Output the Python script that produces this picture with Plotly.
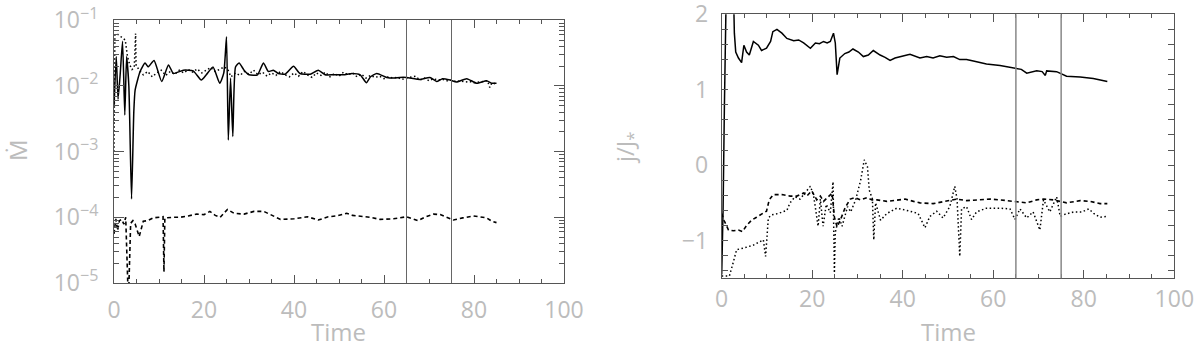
import plotly.graph_objects as go

# ---------------- Left panel data (accretion rate, log axis) ----------------
l_solid_t = [0, 0.5, 0.9, 1.4, 1.9, 2.4, 2.8, 3.3, 3.9, 4.4, 4.7, 5.8, 6.9, 7.6, 8.9, 10.6, 12.1, 13.2,
             15.4, 17.6, 19.4, 20.5, 22.0, 23.5, 24.4, 25.0, 25.4, 25.9, 26.4, 27.0, 27.8, 28.9, 30.0,
             31.9, 33.2, 34.3, 35.4, 36.5, 38.0, 39.9, 41.3, 43.6, 45.4, 46.9, 48.7, 51.0, 52.9, 54.7,
             56.1, 57.0, 58.4, 60.6, 62.1, 63.5, 65.0, 68.0, 70.2, 71.7, 73.0, 74.7, 76.1, 78.4, 80.6,
             82.8, 83.9, 85.0]
l_solid_v = [5.0e-3, 2.8e-2, 6.3e-3, 1.6e-2, 4.8e-2, 3.6e-3, 2.8e-2, 1.0e-2, 1.9e-4, 4.0e-3, 8.7e-3,
             1.66e-2, 2.24e-2, 1.95e-2, 2.45e-2, 1.17e-2, 2.09e-2, 1.55e-2, 1.74e-2, 1.70e-2, 1.23e-2,
             1.48e-2, 1.95e-2, 1.10e-2, 1.58e-2, 5.6e-2, 1.5e-3, 1.32e-2, 1.7e-3, 1.95e-2, 2.24e-2,
             1.74e-2, 1.48e-2, 1.48e-2, 2.24e-2, 1.66e-2, 1.74e-2, 1.55e-2, 1.51e-2, 2.0e-2, 1.55e-2,
             1.51e-2, 1.74e-2, 1.48e-2, 1.48e-2, 1.48e-2, 1.55e-2, 1.48e-2, 1.12e-2, 1.38e-2, 1.55e-2,
             1.35e-2, 1.32e-2, 1.35e-2, 1.35e-2, 1.26e-2, 1.35e-2, 1.17e-2, 1.29e-2, 1.23e-2, 1.15e-2,
             1.29e-2, 1.10e-2, 1.20e-2, 1.10e-2, 1.10e-2]

l_dot_t = [0, 0.2, 0.6, 1.0, 1.5, 2.0, 2.5, 3.0, 3.5, 4.0, 4.5, 4.8, 4.9, 5.5, 6.5, 7.5, 8.5, 9.5,
           10.5, 11.5, 12.5, 13.5, 14.5, 15.5, 16.5, 17.5, 18.5, 19.5, 20.5, 21.5, 22.5, 23.5, 24.5,
           25.3, 26.0, 27.0, 28.0, 29.0, 30.0, 31.0, 32.0, 33.0, 34.0, 35.0, 36.0, 37.0, 38.0, 39.0,
           40.0, 41.0, 42.0, 43.0, 44.0, 45.0, 46.0, 47.0, 48.0, 49.0, 50.0, 51.0, 52.0, 53.0, 54.0,
           55.0, 56.0, 57.0, 58.0, 59.0, 60.0, 61.0, 62.0, 63.0, 64.0, 65.0, 66.0, 67.0, 68.0, 69.0,
           70.0, 71.0, 72.0, 73.0, 74.0, 75.0, 76.0, 77.0, 78.0, 79.0, 80.0, 81.0, 82.0, 83.0, 83.5,
           84.0, 85.0]
l_dot_v = [1.0e-3, 6.0e-2, 6.3e-2, 6.0e-2, 5.6e-2, 5.4e-2, 5.0e-2, 2.8e-2, 2.1e-2, 1.78e-2, 1.91e-2,
           6.3e-2, 2.1e-2, 1.78e-2, 1.48e-2, 1.66e-2, 1.38e-2, 1.58e-2, 1.74e-2, 1.45e-2, 1.66e-2,
           1.51e-2, 1.74e-2, 1.58e-2, 1.78e-2, 1.62e-2, 1.82e-2, 1.58e-2, 1.74e-2, 1.91e-2, 1.66e-2,
           1.82e-2, 1.95e-2, 1.78e-2, 1.38e-2, 1.58e-2, 1.45e-2, 1.66e-2, 1.51e-2, 1.74e-2, 1.48e-2,
           1.62e-2, 1.41e-2, 1.58e-2, 1.45e-2, 1.66e-2, 1.48e-2, 1.38e-2, 1.58e-2, 1.41e-2, 1.66e-2,
           1.48e-2, 1.35e-2, 1.58e-2, 1.45e-2, 1.62e-2, 1.38e-2, 1.55e-2, 1.41e-2, 1.62e-2, 1.48e-2,
           1.58e-2, 1.38e-2, 1.51e-2, 1.32e-2, 1.45e-2, 1.35e-2, 1.41e-2, 1.29e-2, 1.38e-2, 1.32e-2,
           1.35e-2, 1.26e-2, 1.32e-2, 1.35e-2, 1.41e-2, 1.23e-2, 1.32e-2, 1.20e-2, 1.29e-2, 1.23e-2,
           1.26e-2, 1.20e-2, 1.23e-2, 1.17e-2, 1.20e-2, 1.15e-2, 1.17e-2, 1.12e-2, 1.15e-2, 1.17e-2,
           1.20e-2, 0.95e-2, 1.12e-2, 1.07e-2]

l_dash_t = [0, 0.4, 0.8, 1.2, 1.7, 2.2, 2.6, 3.2, 3.7, 4.2, 4.7, 5.6, 6.5, 7.5, 8.7, 10.9, 11.1, 11.3,
            13.0, 14.7, 16.5, 18.4, 20.0, 21.3, 22.5, 23.6, 25.2, 26.7, 28.9, 31.1, 33.3, 34.8, 37.0,
            40.0, 43.0, 45.4, 47.6, 49.5, 51.7, 53.0, 54.7, 57.0, 59.1, 62.1, 65.0, 66.5, 67.6, 69.0,
            71.0, 72.5, 74.0, 75.4, 77.5, 79.9, 82.8, 84.0, 85.0]
l_dash_v = [5.6e-5, 9.5e-5, 6.3e-5, 8.9e-5, 9.3e-5, 7.9e-5, 1.0e-4, 5.0e-6, 8.1e-5, 8.9e-5, 7.9e-5,
            5.1e-5, 8.7e-5, 8.9e-5, 9.8e-5, 1.02e-4, 1.48e-5, 9.8e-5, 1.0e-4, 1.0e-4, 1.05e-4,
            1.12e-4, 1.10e-4, 1.23e-4, 1.07e-4, 1.0e-4, 1.32e-4, 1.15e-4, 1.12e-4, 1.23e-4, 1.23e-4,
            1.10e-4, 9.3e-5, 9.5e-5, 1.02e-4, 9.1e-5, 1.02e-4, 1.05e-4, 1.15e-4, 1.07e-4, 1.05e-4,
            1.0e-4, 9.3e-5, 9.5e-5, 1.02e-4, 9.3e-5, 8.9e-5, 1.0e-4, 1.12e-4, 1.10e-4, 1.0e-4,
            9.1e-5, 9.8e-5, 1.05e-4, 9.8e-5, 8.7e-5, 8.3e-5]

# ---------------- Right panel data (specific angular momentum) ----------------
r_solid_t = [0, 0.3, 0.6, 1.0, 2.6, 2.8, 3.1, 3.7, 4.4, 4.9, 5.5, 6.1, 7.0, 8.1, 8.8, 9.9, 10.8, 11.3,
             12.2, 13.3, 14.4, 15.9, 17.0, 18.1, 19.6, 20.7, 21.6, 22.5, 23.3, 24.0, 24.7, 25.1, 25.5,
             26.1, 27.2, 28.1, 29.0, 30.2, 31.3, 32.4, 33.5, 35.0, 36.1, 37.2, 38.3, 39.4, 41.6, 43.8,
             45.3, 46.7, 48.2, 49.7, 51.2, 52.6, 54.1, 55.6, 58.5, 61.5, 64.8, 66.2, 67.4, 69.6, 70.8,
             71.5, 71.8, 74.0, 76.2, 79.2, 82.1, 84.0, 85.2]
r_solid_v = [-1.45, -0.6, 0.8, 2.3, 2.3, 1.75, 1.50, 1.42, 1.36, 1.59, 1.50, 1.46, 1.64, 1.59, 1.52,
             1.55, 1.64, 1.77, 1.80, 1.75, 1.68, 1.65, 1.66, 1.62, 1.55, 1.62, 1.61, 1.64, 1.62, 1.64,
             1.75, 1.62, 1.20, 1.42, 1.48, 1.50, 1.54, 1.50, 1.44, 1.46, 1.52, 1.46, 1.43, 1.39, 1.42,
             1.44, 1.47, 1.42, 1.44, 1.42, 1.45, 1.43, 1.44, 1.40, 1.40, 1.38, 1.34, 1.32, 1.28, 1.27,
             1.22, 1.25, 1.24, 1.19, 1.25, 1.24, 1.18, 1.17, 1.15, 1.13, 1.11]

r_dash_t = [0, 0.5, 1.5, 2.6, 3.7, 4.6, 5.5, 6.6, 7.7, 8.8, 9.9, 10.5, 11.4, 13.3, 15.1, 16.6, 18.1,
            18.8, 19.9, 21.0, 21.8, 22.5, 23.6, 24.4, 24.9, 25.5, 26.2, 27.3, 28.4, 29.5, 30.6, 32.1,
            33.2, 34.3, 36.5, 38.7, 40.5, 42.4, 43.8, 46.7, 49.7, 51.9, 54.1, 56.3, 59.3, 61.5, 64.8,
            67.4, 69.6, 71.1, 73.3, 74.8, 76.2, 79.2, 81.4, 83.6, 85.2]
r_dash_v = [-0.64, -0.73, -0.86, -0.87, -0.86, -0.88, -0.80, -0.73, -0.69, -0.65, -0.61, -0.46, -0.39,
            -0.39, -0.41, -0.41, -0.37, -0.41, -0.34, -0.46, -0.41, -0.48, -0.41, -0.37, -0.69, -0.82,
            -0.73, -0.56, -0.45, -0.43, -0.46, -0.43, -0.46, -0.46, -0.48, -0.46, -0.45, -0.48, -0.50,
            -0.51, -0.48, -0.45, -0.47, -0.46, -0.45, -0.46, -0.48, -0.50, -0.46, -0.45, -0.46, -0.48,
            -0.50, -0.47, -0.48, -0.51, -0.51]

r_dot_t = [0, 0.9, 1.7, 2.5, 3.3, 4.8, 7.0, 9.2, 9.7, 10.3, 11.0, 12.5, 14.4, 15.1, 16.2, 17.3, 18.4,
           19.6, 20.3, 20.7, 21.3, 21.8, 22.4, 23.1, 24.0, 24.6, 24.9, 25.1, 25.9, 26.6, 27.8, 28.5,
           29.6, 30.7, 31.5, 32.2, 32.6, 33.3, 33.6, 34.0, 35.1, 36.5, 38.7, 40.9, 42.7, 43.4, 44.9,
           46.0, 47.5, 48.9, 50.4, 51.5, 52.0, 52.6, 53.0, 54.1, 55.2, 56.3, 58.5, 61.5, 63.7, 64.8,
           65.9, 67.4, 68.8, 70.3, 71.1, 72.5, 74.0, 74.8, 75.9, 77.8, 79.6, 81.1, 82.2, 83.6, 85.1]
r_dot_v = [-1.47, -1.47, -1.47, -1.30, -1.12, -1.10, -1.06, -0.99, -1.21, -0.70, -0.66, -0.64, -0.60,
           -0.50, -0.42, -0.45, -0.37, -0.28, -0.40, -0.55, -0.81, -0.45, -0.81, -0.52, -0.63, -0.22,
           -1.43, -0.89, -0.69, -0.81, -0.55, -0.62, -0.46, -0.20, 0.07, -0.02, -0.33, -0.45, -0.99,
           -0.50, -0.73, -0.64, -0.57, -0.60, -0.63, -0.64, -0.83, -0.68, -0.61, -0.70, -0.55, -0.28,
           -0.45, -1.21, -0.58, -0.55, -0.72, -0.62, -0.57, -0.57, -0.58, -0.72, -0.58, -0.70, -0.62,
           -0.86, -0.46, -0.62, -0.42, -0.68, -0.65, -0.62, -0.62, -0.58, -0.64, -0.69, -0.68]

x_ticks = [0, 20, 40, 60, 80, 100]
l_y_ticks = [1e-5, 1e-4, 1e-3, 1e-2, 1e-1]
l_y_text = ["10<sup>\u22125</sup>", "10<sup>\u22124</sup>", "10<sup>\u22123</sup>",
            "10<sup>\u22122</sup>", "10<sup>\u22121</sup>"]
r_y_ticks = [-1, 0, 1, 2]
r_y_text = ["\u22121", "0", "1", "2"]
v_lines = [65, 75]

LABEL = "#bcbcbc"
FRAME = "#555555"
FONT = "Open Sans"

fig = go.Figure()
line_styles = [("solid", 1.5), ("1.5px,2.5px", 1.5), ("4px,3px", 1.6)]
shapes_l = ["spline", "linear", "linear"]
for xs, ys, (dash, w), sh in zip([l_solid_t, l_dot_t, l_dash_t], [l_solid_v, l_dot_v, l_dash_v],
                                 line_styles, shapes_l):
    fig.add_trace(go.Scatter(x=xs, y=ys, mode="lines", xaxis="x", yaxis="y",
                             line=dict(color="black", width=w, dash=dash, shape=sh,
                                       smoothing=0.5 if sh == "spline" else None),
                             showlegend=False))
for xs, ys, (dash, w) in zip([r_solid_t, r_dot_t, r_dash_t], [r_solid_v, r_dot_v, r_dash_v], line_styles):
    fig.add_trace(go.Scatter(x=xs, y=ys, mode="lines", xaxis="x2", yaxis="y2",
                             line=dict(color="black", width=w, dash=dash), showlegend=False))

common_axis = dict(showgrid=False, zeroline=False, showline=True, linecolor=FRAME, linewidth=1,
                   mirror="allticks", ticks="inside", tickcolor=FRAME, automargin=False,
                   ticklabeloverflow="allow",
                   tickfont=dict(family=FONT, size=23, color=LABEL))

fig.update_layout(
    width=1200, height=346, paper_bgcolor="white", plot_bgcolor="white",
    margin=dict(l=0, r=0, t=0, b=0, autoexpand=False),
    xaxis=dict(domain=[114 / 1200, 564 / 1200], range=[0, 100], tickvals=x_ticks, ticklen=8,
               minor=dict(ticks="inside", dtick=5, tick0=0, ticklen=4, tickcolor=FRAME),
               ticklabelstandoff=6, anchor="y", **common_axis),
    yaxis=dict(domain=[(346 - 283) / 346, (346 - 20.3) / 346], type="log", range=[-5, -1],
               tickvals=l_y_ticks, ticktext=l_y_text, ticklen=10,
               minor=dict(ticks="inside", dtick="D1", ticklen=5, tickcolor=FRAME),
               ticklabelstandoff=10, anchor="x", **common_axis),
    xaxis2=dict(domain=[721.7 / 1200, 1174.3 / 1200], range=[0, 100], tickvals=x_ticks, ticklen=8,
                minor=dict(ticks="inside", dtick=5, tick0=0, ticklen=4, tickcolor=FRAME),
                ticklabelstandoff=0, anchor="y2", **common_axis),
    yaxis2=dict(domain=[(346 - 278.3) / 346, (346 - 14.3) / 346], range=[-1.5, 2.0001],
                tickvals=r_y_ticks, ticktext=r_y_text, ticklen=6,
                minor=dict(ticks="inside", dtick=0.2, tick0=0, ticklen=6, tickcolor=FRAME),
                ticklabelstandoff=8, anchor="x2", **common_axis),
)

for xv in v_lines:
    fig.add_shape(type="line", xref="x", yref="y domain", x0=xv, x1=xv, y0=0, y1=1,
                  line=dict(color="#666666", width=1))
    fig.add_shape(type="line", xref="x2", yref="y2 domain", x0=xv, x1=xv, y0=0, y1=1,
                  line=dict(color="#888888", width=1.5))

title_font = dict(family=FONT, size=24, color=LABEL)
fig.add_annotation(text="Time", xref="paper", yref="paper", x=339 / 1200, y=(346 - 331) / 346,
                   showarrow=False, font=title_font, xanchor="center", yanchor="middle")
fig.add_annotation(text="Time", xref="paper", yref="paper", x=948 / 1200, y=(346 - 331) / 346,
                   showarrow=False, font=title_font, xanchor="center", yanchor="middle")
fig.add_annotation(text="\u1E40", xref="paper", yref="paper", x=18 / 1200, y=(346 - 150) / 346,
                   showarrow=False, font=title_font, textangle=-90, xanchor="center", yanchor="middle")
fig.add_annotation(text="j/J<sub>*</sub>", xref="paper", yref="paper", x=626 / 1200, y=(346 - 147) / 346,
                   showarrow=False, font=title_font, textangle=-90, xanchor="center", yanchor="middle")

fig.write_html("out.html", config={"displayModeBar": False},
               post_script="document.body.style.margin='0px';document.body.style.overflow='hidden';")
